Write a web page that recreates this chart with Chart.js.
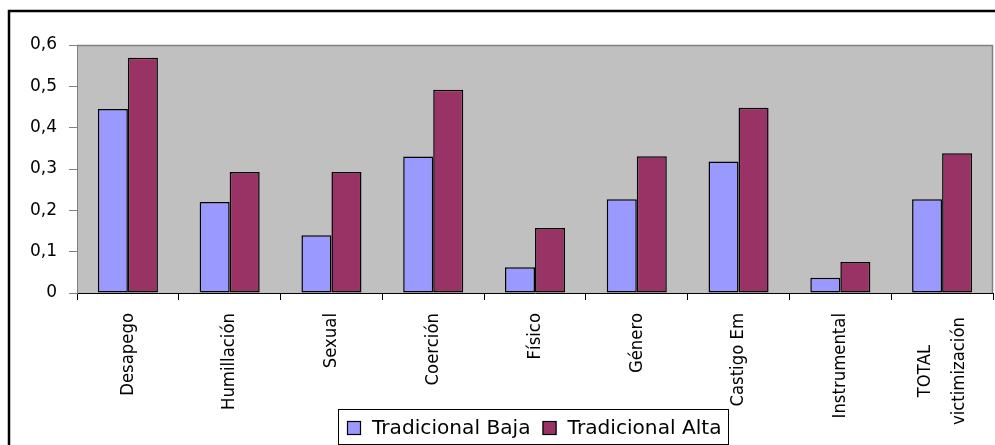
<!DOCTYPE html>
<html>
<head>
<meta charset="utf-8">
<script src="https://cdn.jsdelivr.net/npm/chart.js@4/dist/chart.umd.min.js"></script>
<style>
  html, body { margin: 0; padding: 0; background: #fff; }
  #wrap { width: 995px; height: 445px; position: relative; }
</style>
</head>
<body>
<div id="wrap"><canvas id="c"></canvas></div>
<script>
const categories = ["Desapego", "Humillación", "Sexual", "Coerción", "Físico", "Género", "Castigo Em", "Instrumental", ["TOTAL", "victimización"]];
const seriesNames = ["Tradicional Baja", "Tradicional Alta"];
const tradicionalBaja = [0.445, 0.220, 0.140, 0.330, 0.062, 0.227, 0.318, 0.037, 0.227];
const tradicionalAlta = [0.569, 0.293, 0.293, 0.492, 0.157, 0.331, 0.448, 0.075, 0.338];
const seriesColors = ["#9999FF", "#993366"];
const yTicks = [0, 0.1, 0.2, 0.3, 0.4, 0.5, 0.6];

const FONT = "'DejaVu Sans', Verdana, sans-serif";

const framePlugin = {
  id: 'frame',
  beforeDraw(chart) {
    const ctx = chart.ctx, a = chart.chartArea;
    ctx.save();
    ctx.fillStyle = '#fff';
    ctx.fillRect(0, 0, chart.width, chart.height);
    ctx.strokeStyle = '#000';
    ctx.lineWidth = 2.5;
    ctx.strokeRect(9, 11, chart.width + 20, chart.height + 20);
    ctx.fillStyle = '#C0C0C0';
    ctx.fillRect(a.left, a.top, a.right - a.left, a.bottom - a.top);
    ctx.strokeStyle = '#808080';
    ctx.lineWidth = 1.5;
    ctx.beginPath();
    ctx.moveTo(a.left, a.top + 0.5);
    ctx.lineTo(a.right - 0.5, a.top + 0.5);
    ctx.lineTo(a.right - 0.5, a.bottom);
    ctx.stroke();
    ctx.restore();
  },
  afterDraw(chart) {
    const ctx = chart.ctx;
    const xs = chart.scales.x;
    ctx.save();
    ctx.fillStyle = '#000';
    ctx.font = '16.5px ' + FONT;
    ctx.textBaseline = 'middle';
    const labels = chart.data.labels;
    labels.forEach((lab, i) => {
      const x = xs.getPixelForValue(i);
      const lines = Array.isArray(lab) ? lab : [lab];
      ctx.save();
      if (lines.length === 1) {
        ctx.translate(x, 313);
        ctx.rotate(-Math.PI / 2);
        ctx.scale(1, 1.12);
        ctx.textAlign = 'right';
        ctx.fillText(lines[0], 0, 0);
      } else {
        const W = Math.max(...lines.map(l => ctx.measureText(l).width));
        const lh = 30;
        ctx.translate(x, 317 + W / 2);
        ctx.rotate(-Math.PI / 2);
        ctx.scale(1, 1.12);
        ctx.textAlign = 'center';
        lines.forEach((l, j) => {
          ctx.fillText(l, 0, (j - (lines.length - 1) / 2) * lh);
        });
      }
      ctx.restore();
    });
    // legend
    const bx = 338, by = 409, bw = 390, bh = 35;
    ctx.fillStyle = '#fff';
    ctx.fillRect(bx, by, bw, bh);
    ctx.strokeStyle = '#000';
    ctx.lineWidth = 1;
    ctx.strokeRect(bx + 0.5, by + 0.5, bw, bh);
    ctx.font = '19px ' + FONT;
    ctx.textAlign = 'left';
    ctx.textBaseline = 'alphabetic';
    const sx = 1.06;
    let cx = 347;
    chart.data.datasets.forEach((ds) => {
      ctx.fillStyle = ds.backgroundColor;
      ctx.fillRect(cx, 421, 14, 14);
      ctx.strokeStyle = '#000';
      ctx.lineWidth = 1.2;
      ctx.strokeRect(cx + 0.5, 421.5, 13, 13);
      ctx.fillStyle = '#000';
      ctx.save();
      ctx.translate(cx + 25, 434);
      ctx.scale(sx, 1);
      ctx.fillText(ds.label, 0, 0);
      ctx.restore();
      cx = cx + 25 + ctx.measureText(ds.label).width * sx + 12;
    });
    ctx.restore();
  }
};

new Chart(document.getElementById('c'), {
  type: 'bar',
  data: {
    labels: categories,
    datasets: [
      { label: seriesNames[0], data: tradicionalBaja, backgroundColor: seriesColors[0], borderColor: '#000', borderWidth: 1.5, borderSkipped: false },
      { label: seriesNames[1], data: tradicionalAlta, backgroundColor: seriesColors[1], borderColor: '#000', borderWidth: 1.5, borderSkipped: false }
    ]
  },
  options: {
    responsive: true,
    maintainAspectRatio: false,
    animation: false,
    devicePixelRatio: 1,
    layout: { padding: { left: 0, right: 2, top: 45, bottom: 0 } },
    datasets: { bar: { categoryPercentage: 0.59, barPercentage: 1.0 } },
    plugins: { legend: { display: false }, tooltip: { enabled: false } },
    scales: {
      x: {
        offset: true,
        grid: { offset: true, drawOnChartArea: false, drawTicks: true, tickLength: 7, color: '#000' },
        border: { color: '#000', width: 1 },
        ticks: { display: false },
        afterFit(s) { s.height = 152; }
      },
      y: {
        min: 0, max: 0.6,
        afterBuildTicks(s) { s.ticks = yTicks.map(v => ({ value: v })); },
        grid: { drawOnChartArea: false, drawTicks: true, tickLength: 8, color: '#808080' },
        border: { color: '#808080', width: 1 },
        ticks: {
          padding: 12,
          color: '#000',
          font: { family: FONT, size: 17 },
          callback: (v) => v === 0 ? '0' : v.toFixed(1).replace('.', ',')
        },
        afterFit(s) { s.width = 77; }
      }
    }
  },
  plugins: [framePlugin]
});
</script>
</body>
</html>
